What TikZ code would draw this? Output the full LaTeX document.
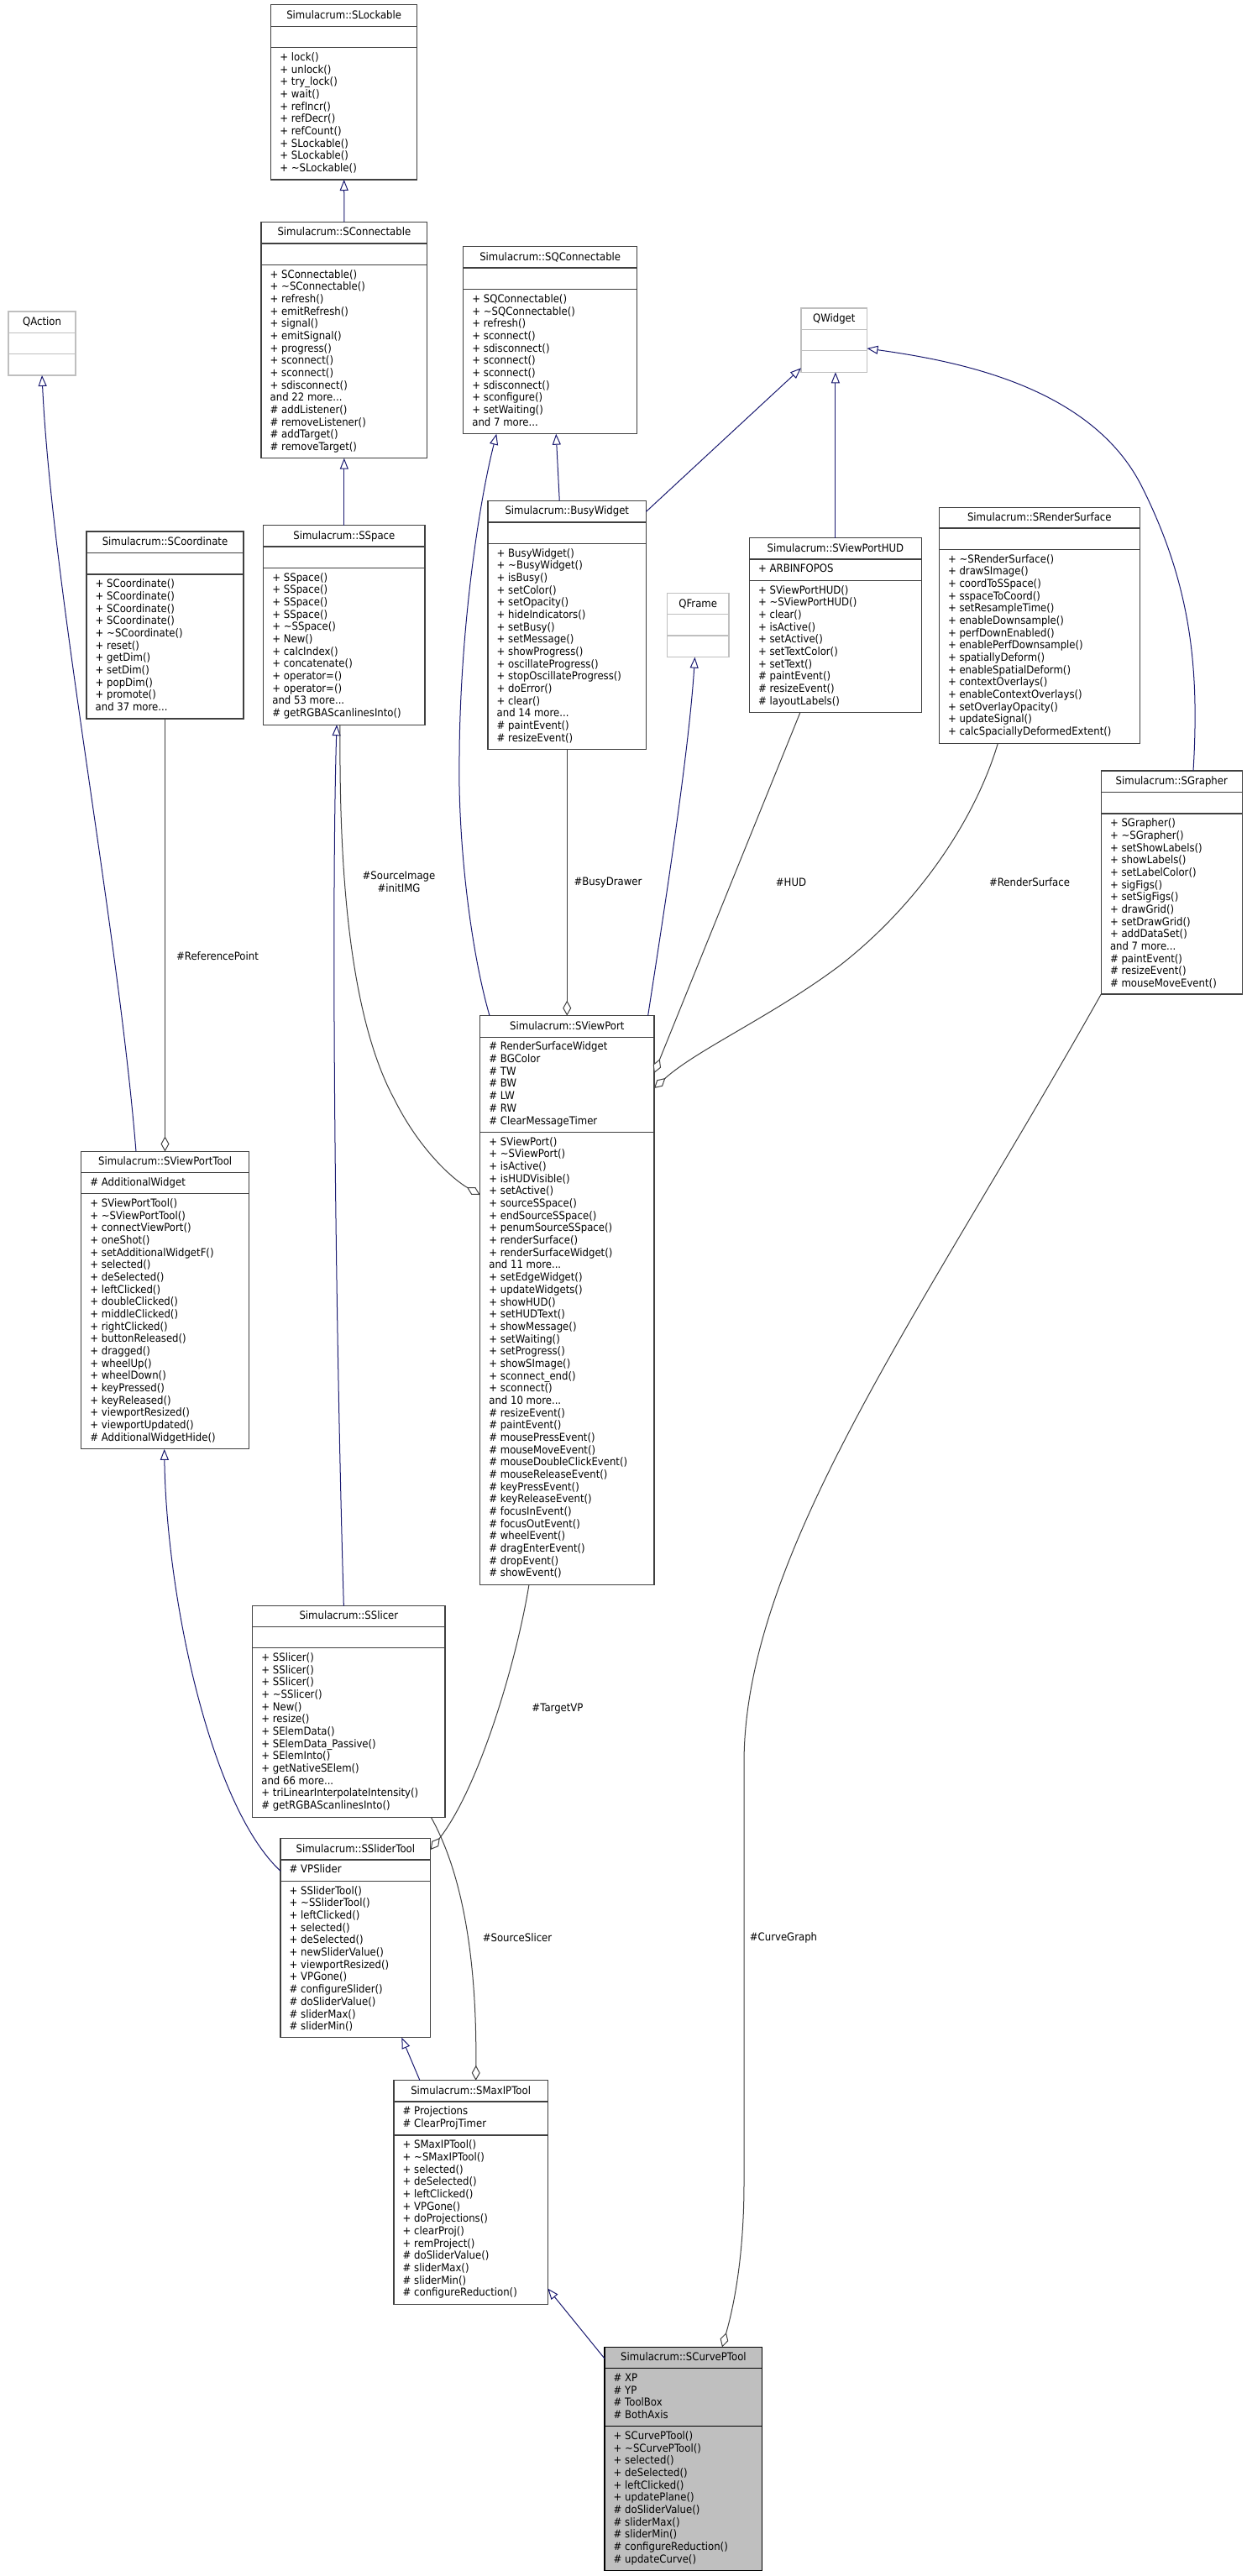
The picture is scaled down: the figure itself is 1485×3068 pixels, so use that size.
\documentclass[tikz,border=0pt]{standalone}
\usepackage{fontspec}
\setmainfont{DejaVu Sans}[FakeStretch=0.9]
\usetikzlibrary{arrows.meta}
\definecolor{boxgray}{HTML}{404040}
\definecolor{edgeblue}{HTML}{191970}
\definecolor{edgegray}{HTML}{404040}
\definecolor{extgray}{HTML}{BFBFBF}
\definecolor{focusfill}{HTML}{BFBFBF}
\newcommand\umlfont{\fontsize{13pt}{14.67pt}\selectfont}
\newcommand\tl{\textasciitilde}
% #1 style, #2 name, #3 x1, #4 y1, #5 x2, #6 sep1, #7 sep2, #8 y2, #9 title
\newcommand\umlclass[9][]{%
  \node[umlbox,#1,minimum width={#5-#3},minimum height={#8-#4}] (#2) at ({(#3+#5)/2},{(#4+#8)/2}) {};
  \draw[umlsep,#1] (#3,#6) -- (#5,#6);
  \draw[umlsep,#1] (#3,#7) -- (#5,#7);
  \node[umltitle] (#2-title) at ({(#3+#5)/2},{(#4+#6)/2+3.8}) {#9};
}
% #1 node name, #2 x1 of box, #3 separator y, #4 text
\newcommand\umlmem[4]{%
  \node[umlmembers] (#1) at ({#2+10.5},{#3+5.3}) {\strut #4};
}
\tikzset{
  umlbox/.style={draw=boxgray, line width=1.2pt, inner sep=0pt, outer sep=0pt, fill=white},
  umlsep/.style={draw=boxgray, line width=1.2pt},
  extbox/.style={draw=extgray},
  focusbox/.style={draw=black, fill=focusfill},
  umltitle/.style={anchor=base, inner sep=0pt, font=\umlfont},
  umlmembers/.style={anchor=north west, inner sep=0pt, align=left, font=\umlfont},
  inherit/.style={draw=edgeblue, line width=1pt, -{Triangle[length=13pt,width=10pt,fill=white,line width=1pt]}},
  usage/.style={draw=edgegray, line width=1pt, -{Diamond[length=18pt,width=10pt,fill=white,line width=1pt]}},
  edgelabel/.style={font=\umlfont, inner sep=0pt, align=center},
}
\begin{document}
\begin{tikzpicture}[x=1pt,y=-1pt]
\useasboundingbox (0,0) rectangle (1485,3068);
\fill[white] (0,0) rectangle (1485,3068);

% ---------- classes ----------
\umlclass{slock}{322.7}{5.7}{496.7}{31.3}{56.7}{214}{Simulacrum::SLockable}
\umlmem{slock-meth}{322.7}{56.7}{+ lock()\\+ unlock()\\+ try\_lock()\\+ wait()\\+ refIncr()\\+ refDecr()\\+ refCount()\\+ SLockable()\\+ SLockable()\\+ \tl SLockable()}

\umlclass{sconn}{311}{264.3}{508.7}{290}{315.3}{545.7}{Simulacrum::SConnectable}
\umlmem{sconn-meth}{311}{315.3}{+ SConnectable()\\+ \tl SConnectable()\\+ refresh()\\+ emitRefresh()\\+ signal()\\+ emitSignal()\\+ progress()\\+ sconnect()\\+ sconnect()\\+ sdisconnect()\\and 22 more...\\\# addListener()\\\# removeListener()\\\# addTarget()\\\# removeTarget()}

\umlclass{sqconn}{551.7}{293.7}{758.7}{319}{344.7}{516.7}{Simulacrum::SQConnectable}
\umlmem{sqconn-meth}{551.7}{344.7}{+ SQConnectable()\\+ \tl SQConnectable()\\+ refresh()\\+ sconnect()\\+ sdisconnect()\\+ sconnect()\\+ sconnect()\\+ sdisconnect()\\+ sconfigure()\\+ setWaiting()\\and 7 more...}

\umlclass[extbox]{qwidget}{954}{367}{1032.5}{392.3}{417.7}{443.3}{QWidget}
\umlclass[extbox]{qaction}{10}{371}{90}{396.3}{421.7}{447}{QAction}
\umlclass[extbox]{qframe}{794.4}{706.7}{868}{731.7}{757}{782.7}{QFrame}

\umlclass{scoord}{103}{633}{290}{658.7}{684}{856}{Simulacrum::SCoordinate}
\umlmem{scoord-meth}{103}{684}{+ SCoordinate()\\+ SCoordinate()\\+ SCoordinate()\\+ SCoordinate()\\+ \tl SCoordinate()\\+ reset()\\+ getDim()\\+ setDim()\\+ popDim()\\+ promote()\\and 37 more...}

\umlclass{sspace}{313.7}{625.7}{506}{651}{676.4}{863.2}{Simulacrum::SSpace}
\umlmem{sspace-meth}{313.7}{676.4}{+ SSpace()\\+ SSpace()\\+ SSpace()\\+ SSpace()\\+ \tl SSpace()\\+ New()\\+ calcIndex()\\+ concatenate()\\+ operator=()\\+ operator=()\\and 53 more...\\\# getRGBAScanlinesInto()}

\umlclass{busy}{581}{596.3}{769.5}{622}{647.3}{892.7}{Simulacrum::BusyWidget}
\umlmem{busy-meth}{581}{647.3}{+ BusyWidget()\\+ \tl BusyWidget()\\+ isBusy()\\+ setColor()\\+ setOpacity()\\+ hideIndicators()\\+ setBusy()\\+ setMessage()\\+ showProgress()\\+ oscillateProgress()\\+ stopOscillateProgress()\\+ doError()\\+ clear()\\and 14 more...\\\# paintEvent()\\\# resizeEvent()}

\umlclass{hud}{892.4}{640.7}{1097.4}{666}{691.3}{848.3}{Simulacrum::SViewPortHUD}
\umlmem{hud-attr}{892.4}{666}{+ ARBINFOPOS}
\umlmem{hud-meth}{892.4}{691.3}{+ SViewPortHUD()\\+ \tl SViewPortHUD()\\+ clear()\\+ isActive()\\+ setActive()\\+ setTextColor()\\+ setText()\\\# paintEvent()\\\# resizeEvent()\\\# layoutLabels()}

\umlclass{rsurf}{1118.3}{604.2}{1357.3}{629}{654.3}{885.4}{Simulacrum::SRenderSurface}
\umlmem{rsurf-meth}{1118.3}{654.3}{+ \tl SRenderSurface()\\+ drawSImage()\\+ coordToSSpace()\\+ sspaceToCoord()\\+ setResampleTime()\\+ enableDownsample()\\+ perfDownEnabled()\\+ enablePerfDownsample()\\+ spatiallyDeform()\\+ enableSpatialDeform()\\+ contextOverlays()\\+ enableContextOverlays()\\+ setOverlayOpacity()\\+ updateSignal()\\+ calcSpaciallyDeformedExtent()}

\umlclass{sgraph}{1311.3}{918}{1479.3}{943.2}{968.9}{1184}{Simulacrum::SGrapher}
\umlmem{sgraph-meth}{1311.3}{968.9}{+ SGrapher()\\+ \tl SGrapher()\\+ setShowLabels()\\+ showLabels()\\+ setLabelColor()\\+ sigFigs()\\+ setSigFigs()\\+ drawGrid()\\+ setDrawGrid()\\+ addDataSet()\\and 7 more...\\\# paintEvent()\\\# resizeEvent()\\\# mouseMoveEvent()}

\umlclass{svptool}{96.7}{1371.4}{296.7}{1396.7}{1421.6}{1725.8}{Simulacrum::SViewPortTool}
\umlmem{svptool-attr}{96.7}{1396.7}{\# AdditionalWidget}
\umlmem{svptool-meth}{96.7}{1421.6}{+ SViewPortTool()\\+ \tl SViewPortTool()\\+ connectViewPort()\\+ oneShot()\\+ setAdditionalWidgetF()\\+ selected()\\+ deSelected()\\+ leftClicked()\\+ doubleClicked()\\+ middleClicked()\\+ rightClicked()\\+ buttonReleased()\\+ dragged()\\+ wheelUp()\\+ wheelDown()\\+ keyPressed()\\+ keyReleased()\\+ viewportResized()\\+ viewportUpdated()\\\# AdditionalWidgetHide()}

\umlclass{svp}{571.7}{1209.6}{779}{1235.2}{1348.5}{1887.1}{Simulacrum::SViewPort}
\umlmem{svp-attr}{571.7}{1235.2}{\# RenderSurfaceWidget\\\# BGColor\\\# TW\\\# BW\\\# LW\\\# RW\\\# ClearMessageTimer}
\umlmem{svp-meth}{571.7}{1348.5}{+ SViewPort()\\+ \tl SViewPort()\\+ isActive()\\+ isHUDVisible()\\+ setActive()\\+ sourceSSpace()\\+ endSourceSSpace()\\+ penumSourceSSpace()\\+ renderSurface()\\+ renderSurfaceWidget()\\and 11 more...\\+ setEdgeWidget()\\+ updateWidgets()\\+ showHUD()\\+ setHUDText()\\+ showMessage()\\+ setWaiting()\\+ setProgress()\\+ showSImage()\\+ sconnect\_end()\\+ sconnect()\\and 10 more...\\\# resizeEvent()\\\# paintEvent()\\\# mousePressEvent()\\\# mouseMoveEvent()\\\# mouseDoubleClickEvent()\\\# mouseReleaseEvent()\\\# keyPressEvent()\\\# keyReleaseEvent()\\\# focusInEvent()\\\# focusOutEvent()\\\# wheelEvent()\\\# dragEnterEvent()\\\# dropEvent()\\\# showEvent()}

\umlclass{sslicer}{300.7}{1912.6}{530}{1937.5}{1962.7}{2164.3}{Simulacrum::SSlicer}
\umlmem{sslicer-meth}{300.7}{1962.7}{+ SSlicer()\\+ SSlicer()\\+ SSlicer()\\+ \tl SSlicer()\\+ New()\\+ resize()\\+ SElemData()\\+ SElemData\_Passive()\\+ SElemInto()\\+ getNativeSElem()\\and 66 more...\\+ triLinearInterpolateIntensity()\\\# getRGBAScanlinesInto()}

\umlclass{sslider}{334}{2189.7}{512.7}{2215}{2240.5}{2426.7}{Simulacrum::SSliderTool}
\umlmem{sslider-attr}{334}{2215}{\# VPSlider}
\umlmem{sslider-meth}{334}{2240.5}{+ SSliderTool()\\+ \tl SSliderTool()\\+ leftClicked()\\+ selected()\\+ deSelected()\\+ newSliderValue()\\+ viewportResized()\\+ VPGone()\\\# configureSlider()\\\# doSliderValue()\\\# sliderMax()\\\# sliderMin()}

\umlclass{smaxip}{469}{2477.8}{652.3}{2503}{2543}{2744.6}{Simulacrum::SMaxIPTool}
\umlmem{smaxip-attr}{469}{2503}{\# Projections\\\# ClearProjTimer}
\umlmem{smaxip-meth}{469}{2543}{+ SMaxIPTool()\\+ \tl SMaxIPTool()\\+ selected()\\+ deSelected()\\+ leftClicked()\\+ VPGone()\\+ doProjections()\\+ clearProj()\\+ remProject()\\\# doSliderValue()\\\# sliderMax()\\\# sliderMin()\\\# configureReduction()}

\umlclass[focusbox]{scurve}{720}{2795.4}{907.7}{2820.6}{2889.6}{3061.8}{Simulacrum::SCurvePTool}
\umlmem{scurve-attr}{720}{2820.6}{\# XP\\\# YP\\\# ToolBox\\\# BothAxis}
\umlmem{scurve-meth}{720}{2889.6}{+ SCurvePTool()\\+ \tl SCurvePTool()\\+ selected()\\+ deSelected()\\+ leftClicked()\\+ updatePlane()\\\# doSliderValue()\\\# sliderMax()\\\# sliderMin()\\\# configureReduction()\\\# updateCurve()}

% ---------- inheritance ----------
\draw[inherit] (sconn.north) -- (slock.south);
\draw[inherit] (sspace.north) -- (sconn.south);
\draw[inherit] ([xshift=-9pt]busy.north) -- ([xshift=7pt]sqconn.south);
\draw[inherit] ([yshift=-13pt]busy.north east) -- ([yshift=5pt]qwidget.south west);
\draw[inherit] (hud.north) -- (hud.north |- qwidget.south);
\draw[inherit] ([xshift=25.7pt]sgraph.north) .. controls (1428,800) and (1420,700) .. (1360,580) .. controls (1300,460) and (1140,430) .. ([yshift=-9.8pt]qwidget.east);
\draw[inherit] ([xshift=-92.35pt]svp.north) .. controls (560,1130) and (545,1000) .. (547,900) .. controls (548,750) and (570,600) .. ([xshift=-63.9pt]sqconn.south);
\draw[inherit] ([xshift=96.3pt]svp.north) .. controls (790,1090) and (820,900) .. ([xshift=-3.7pt]qframe.south);
\draw[inherit] ([xshift=-34.7pt]svptool.north) .. controls (140,1100) and (62,700) .. (qaction.south);
\draw[inherit] ([xshift=-6pt]sslicer.north) .. controls (400,1600) and (394,1100) .. ([xshift=-8.85pt]sspace.south);
\draw[inherit] ([yshift=-38.6pt]sslider.north west) .. controls (250,2150) and (198,1900) .. ([xshift=-1pt]svptool.south);
\draw[inherit] ([xshift=-60.65pt]smaxip.north) -- ([xshift=55pt]sslider.south);
\draw[inherit] ([yshift=-13.6pt]scurve.north west) -- ([yshift=19pt]smaxip.south east);

% ---------- usage ----------
\draw[usage] (scoord.south) -- (scoord.south |- svptool.north);
\draw[usage] ([xshift=-4.85pt]sspace.south) .. controls (404,1000) and (410,1200) .. (470,1310) .. controls (500,1370) and (540,1405) .. ([yshift=-213.4pt]svp.north west);
\draw[usage] (busy.south) -- (busy.south |- svp.north);
\draw[usage] ([xshift=-41.9pt]hud.south) -- ([yshift=-68.4pt]svp.north east);
\draw[usage] ([xshift=-49.5pt]rsurf.south) .. controls (1160,980) and (1090,1080) .. (1000,1150) .. controls (920,1210) and (830,1250) .. ([yshift=-86.4pt]svp.north east);
\draw[usage] ([xshift=-45.35pt]svp.south) .. controls (615,1980) and (570,2130) .. ([yshift=-13.3pt]sslider.north east);
\draw[usage] ([xshift=97.95pt]sslicer.south) .. controls (550,2230) and (568,2330) .. ([xshift=6pt]smaxip.north);
\draw[usage] (sgraph.south west) .. controls (1100,1560) and (886,1850) .. (886,2100) -- (886,2600) .. controls (886,2700) and (870,2760) .. ([xshift=46.15pt]scurve.north);

% ---------- labels ----------
\node[edgelabel] (lbl-refpt) at (259,1139) {\#ReferencePoint};
\node[edgelabel] (lbl-srcimg) at (475,1050.5) {\#SourceImage\\\#initIMG};
\node[edgelabel] (lbl-busy) at (724,1050.7) {\#BusyDrawer};
\node[edgelabel] (lbl-hud) at (942,1050.7) {\#HUD};
\node[edgelabel] (lbl-rsurf) at (1226,1050.7) {\#RenderSurface};
\node[edgelabel] (lbl-target) at (664,2035) {\#TargetVP};
\node[edgelabel] (lbl-srcslicer) at (616,2307.7) {\#SourceSlicer};
\node[edgelabel] (lbl-curve) at (933,2307.7) {\#CurveGraph};
\end{tikzpicture}
\end{document}
